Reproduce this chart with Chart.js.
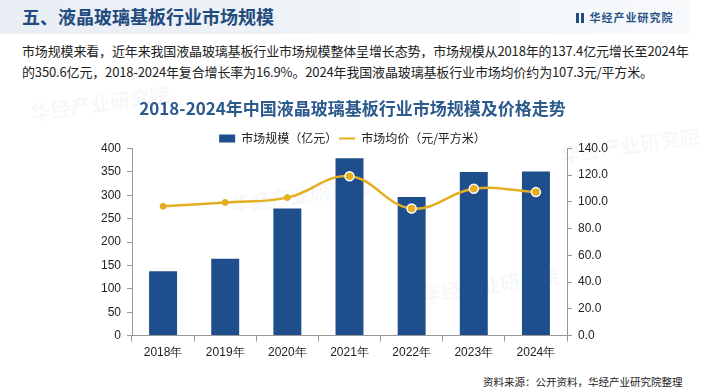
<!DOCTYPE html>
<html>
<head>
<meta charset="utf-8">
<script src="https://cdn.jsdelivr.net/npm/chart.js@4.4.1/dist/chart.umd.min.js"></script>
<style>
  body { margin: 0; width: 705px; height: 392px; background: #fff; overflow: hidden; position: relative;
    font-family: "Noto Sans CJK SC", "Noto Sans", sans-serif; }
  .head { position: absolute; left: 0; top: 0; width: 690px; height: 34px;
    background: linear-gradient(90deg, #e9eef5 0%, #f1f4f8 60%, #f7f9fb 100%); }
  .head h1 { margin: 0; position: absolute; left: 22px; top: 3px; font-size: 18px; font-weight: bold; color: #1f4b7e; }
  .logo { position: absolute; left: 576px; top: 9px; font-size: 11px; color: #2a5487; letter-spacing: 1px; font-weight: bold; }
  .logo i { display: inline-block; width: 3px; height: 10px; background: #1f4b7e; margin-right: 2px; vertical-align: -1px; }
  .desc { position: absolute; left: 22px; top: 40px; width: 668px; font-size: 13px; line-height: 21px; color: #222; letter-spacing: -0.15px; }
  .src { position: absolute; left: 483px; top: 374px; font-size: 10.5px; color: #222; }
  .wm { position: absolute; font-size: 20px; font-weight: bold; color: rgba(120,140,170,0.07); transform: rotate(-8deg); }
  #wrap { position: absolute; left: 0; top: 88px; width: 705px; height: 282px; }
</style>
</head>
<body>
<div class="head"><h1>五、液晶玻璃基板行业市场规模</h1>
  <div class="logo"><i></i><i></i> 华经产业研究院</div></div>
<div class="desc">市场规模来看，近年来我国液晶玻璃基板行业市场规模整体呈增长态势，市场规模从2018年的137.4亿元增长至2024年的350.6亿元，2018-2024年复合增长率为16.9%。2024年我国液晶玻璃基板行业市场均价约为107.3元/平方米。</div>
<div class="wm" style="left:30px;top:88px;">华经产业研究院</div>
<div class="wm" style="left:230px;top:180px;">华经产业研究院</div>
<div class="wm" style="left:420px;top:270px;">华经产业研究院</div>
<div class="wm" style="left:560px;top:130px;">华经产业研究院</div>
<div id="wrap"><canvas id="chart"></canvas></div>
<div class="src">资料来源：公开资料，华经产业研究院整理</div>
<script>
const years = ["2018年", "2019年", "2020年", "2021年", "2022年", "2023年", "2024年"];
const marketSize = [137.4, 164, 271.5, 379, 296, 349.6, 350.6];
const avgPrice = [96.7, 99.6, 103.2, 119.2, 95.0, 109.8, 107.3];

const barColor = "#1f4e8c";
const lineColor = "#e5ae1f";
const tickFont = { family: "'Liberation Sans', Arial, sans-serif", size: 12 };

// legend leaves less room underneath than Chart.js does by default
const tightLegend = {
  id: "tightLegend",
  beforeInit: function (chart) {
    const fit = chart.legend.fit;
    chart.legend.fit = function () {
      fit.call(this);
      this.height -= 6;
    };
  },
};

new Chart(document.getElementById("chart"), {
  data: {
    labels: years,
    datasets: [
      {
        type: "line",
        label: "市场均价（元/平方米）",
        data: avgPrice,
        yAxisID: "y2",
        borderColor: lineColor,
        backgroundColor: lineColor,
        borderWidth: 2.5,
        tension: 0.4,
        pointRadius: [3, 3, 3, 4.5, 4.5, 4.5, 4.5],
        pointBorderColor: ["#e5ae1f", "#e5ae1f", "#e5ae1f", "#fff", "#fff", "#fff", "#fff"],
        pointBorderWidth: [1, 1, 1, 1.5, 1.5, 1.5, 1.5],
        pointBackgroundColor: lineColor,
        order: 0,
      },
      {
        type: "bar",
        label: "市场规模（亿元）",
        data: marketSize,
        yAxisID: "y",
        backgroundColor: barColor,
        barPercentage: 0.9,
        categoryPercentage: 0.5,
        order: 1,
      },
    ],
  },
  plugins: [tightLegend],
  options: {
    responsive: true,
    maintainAspectRatio: false,
    animation: false,
    layout: { padding: { top: 4, bottom: 6 } },
    plugins: {
      title: {
        display: true,
        text: "2018-2024年中国液晶玻璃基板行业市场规模及价格走势",
        color: "#2c5a8c",
        font: { family: "'Noto Sans CJK SC', sans-serif", size: 17, weight: "bold" },
        padding: { top: 6, bottom: 12 },
      },
      legend: {
        display: true,
        reverse: true,
        labels: {
          color: "#222",
          font: { family: "'Noto Sans CJK SC', sans-serif", size: 12 },
          usePointStyle: true,
          pointStyleWidth: 16,
          boxHeight: 8,
          padding: 2,
          generateLabels: function (chart) {
            const items = Chart.defaults.plugins.legend.labels.generateLabels(chart);
            items.forEach(function (it) {
              if (it.datasetIndex === 0) {
                it.pointStyle = "line";
                it.lineWidth = 2;
                it.strokeStyle = lineColor;
              } else {
                it.pointStyle = "rect";
                it.lineWidth = 0;
              }
            });
            return items;
          },
        },
      },
      tooltip: { enabled: false },
    },
    scales: {
      x: {
        grid: { drawOnChartArea: false, drawTicks: true, tickLength: 6, color: "#999" },
        border: { color: "#999" },
        ticks: { color: "#222", font: tickFont, padding: 4 },
      },
      y: {
        position: "left",
        min: 0,
        max: 400,
        ticks: { stepSize: 50, color: "#222", font: tickFont, padding: 6 },
        grid: { drawOnChartArea: false, tickLength: 5, color: "#999" },
        border: { color: "#999" },
        afterFit: function (scale) { scale.width = 132; },
      },
      y2: {
        position: "right",
        min: 0,
        max: 140,
        ticks: {
          stepSize: 20,
          color: "#222",
          font: tickFont,
          padding: 6,
          callback: function (v) { return v.toFixed(1); },
        },
        grid: { drawOnChartArea: false, tickLength: 5, color: "#999" },
        border: { color: "#999" },
        afterFit: function (scale) { scale.width = 138; },
      },
    },
  },
});
</script>
</body>
</html>
